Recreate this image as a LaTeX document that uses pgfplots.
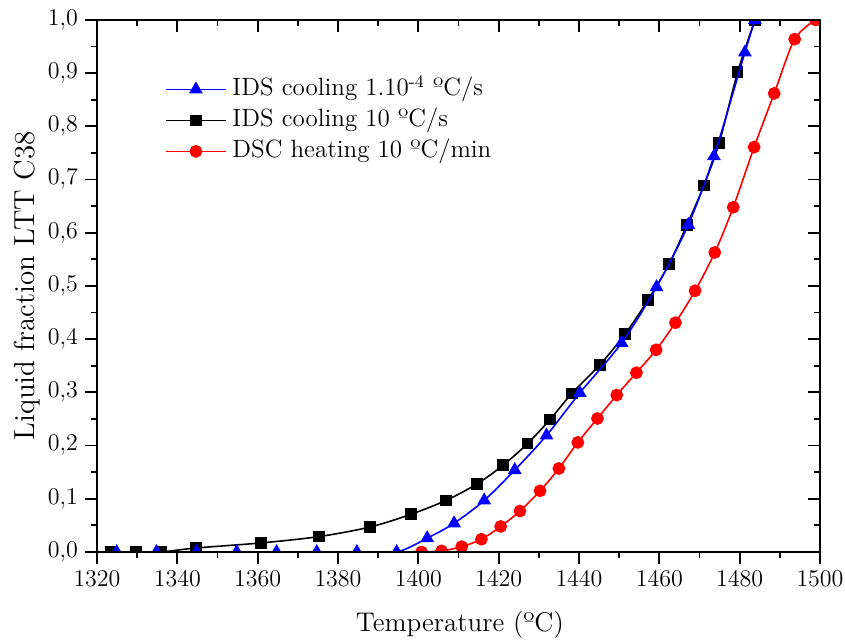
\documentclass[border=0pt]{standalone}
\usepackage{fontspec}
\usepackage{pgfplots}
\pgfplotsset{compat=1.18}
\begin{document}
\begin{tikzpicture}
\pgfplotsset{
  common/.style={scale only axis, width=361.5pt, height=266pt,
    xmin=1320, xmax=1500, ymin=0, ymax=1,
    xtick={1320,1340,1360,1380,1400,1420,1440,1460,1480,1500},
    ytick={0,0.1,0.2,0.3,0.4,0.5,0.6,0.7,0.8,0.9,1.0},
    minor x tick num=1, minor y tick num=1,
    major tick length=6pt, minor tick length=3pt,
    every tick/.style={black, line width=0.9pt},
    axis line style={line width=1pt}},
}
\begin{axis}[common, name=ax,
  tick align=outside, tick pos=left,
  xticklabel style={/pgf/number format/.cd, set thousands separator={}},
  yticklabel style={/pgf/number format/.cd, fixed, fixed zerofill, precision=1, use comma},
  ticklabel style={font=\fontsize{12}{13}\selectfont},
  xlabel={Temperature (ºC)}, ylabel={Liquid fraction LTT C38},
  xlabel style={font=\fontsize{13.5}{15}\selectfont},
  ylabel style={font=\fontsize{14.5}{16}\selectfont},
  every axis x label/.append style={at={(axis description cs:0.502,-0.137)}, anchor=center},
  every axis y label/.append style={at={(axis description cs:-0.0968,0.5)}, anchor=center},
  clip marker paths=true,
  legend style={draw=none, fill=none, at={(rel axis cs:0.094,0.898)}, anchor=north west,
    inner sep=0pt, outer sep=0pt,
    font=\fontsize{12.5}{13.5}\selectfont, row sep=0.4pt, column sep=1.5pt,
    nodes={inner sep=1.3pt, text height=9.5pt, text depth=3pt}},
  legend cell align=left,
  legend image code/.code={\draw[mark repeat=2,mark phase=2] plot coordinates {(0cm,0cm)(0.53cm,0cm)(1.06cm,0cm)};},
]
\coordinate (o) at (rel axis cs:0,0);
\addlegendimage{blue, line width=0.8pt, mark=triangle*, mark size=3.2pt}
\addlegendentry{IDS cooling 1.10\textsuperscript{-4} ºC/s}
\addlegendimage{black, line width=0.8pt, mark=square*, mark size=2.5pt}
\addlegendentry{IDS cooling 10 ºC/s}
\addlegendimage{red, line width=0.8pt, mark=*, mark size=2.8pt}
\addlegendentry{DSC heating 10 ºC/min}

% black
\addplot[black, line width=0.8pt, smooth, mark=square*, mark size=2.5pt, forget plot] coordinates {
(1323.5,0)(1329.7,0)(1335.9,0)(1344.6,0.0075)(1360.8,0.017)(1375.3,0.029)(1388,0.047)
(1398.2,0.071)(1406.9,0.097)(1414.6,0.128)(1421.1,0.163)(1427.2,0.204)(1432.8,0.249)
(1438.2,0.298)(1445.2,0.352)(1451.5,0.410)(1457.2,0.474)(1462.4,0.541)(1466.9,0.615)
(1471.1,0.689)(1474.9,0.769)(1479.5,0.902)(1483.8,1.0)};
% blue extensions
\addplot[blue, line width=0.8pt, forget plot] coordinates {(1320,0)(1324.9,0)};
\addplot[blue, line width=0.8pt, forget plot] coordinates {(1483.8,1)(1500,1)};
% blue
\addplot[blue, line width=0.8pt, smooth, mark=triangle*, mark size=3.2pt, forget plot] coordinates {
(1324.9,0)(1334.8,0)(1344.8,0)(1354.8,0)(1364.7,0)(1374.7,0)(1384.7,0)(1394.6,0)
(1402.2,0.026)(1408.9,0.054)(1416.4,0.097)(1424.0,0.154)(1431.9,0.219)(1440.2,0.299)
(1450.6,0.393)(1459.3,0.498)(1467.2,0.615)(1473.6,0.744)(1481.3,0.939)(1483.8,1.0)};
% red
\addplot[red, line width=0.8pt, smooth, mark=*, mark size=2.8pt, forget plot] coordinates {
(1400.8,0)(1405.8,0.002)(1410.8,0.010)(1415.7,0.024)(1420.5,0.048)(1425.3,0.077)
(1430.3,0.115)(1435,0.157)(1439.7,0.206)(1444.6,0.251)(1449.4,0.295)(1454.3,0.337)
(1459.2,0.380)(1464.0,0.431)(1468.9,0.491)(1473.8,0.563)(1478.4,0.648)(1483.6,0.761)
(1488.6,0.862)(1493.7,0.964)(1498.9,1.0)};
\end{axis}
\begin{axis}[common, tick align=inside, tick pos=right,
  xticklabels={}, yticklabels={}]
\end{axis}
\pgfresetboundingbox
\path[use as bounding box] ([shift={(-48.5pt,-44pt)}]o) rectangle ([shift={(374pt,276pt)}]o);
\end{tikzpicture}
\end{document}
